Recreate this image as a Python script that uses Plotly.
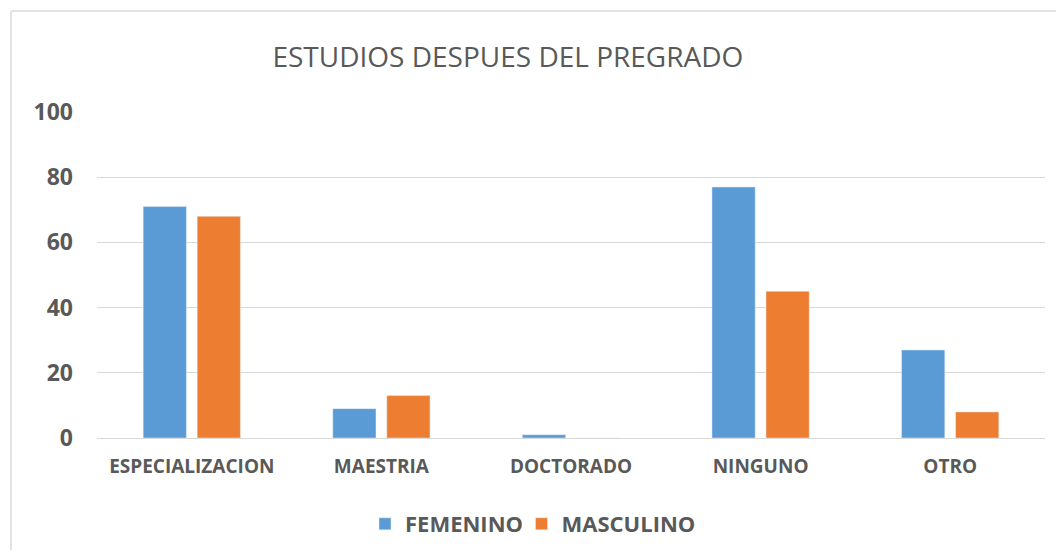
import plotly.graph_objects as go

categories = ["ESPECIALIZACION", "MAESTRIA", "DOCTORADO", "NINGUNO", "OTRO"]
femenino = [71, 9, 1, 77, 27]
masculino = [68, 13, 0, 45, 8]
y_ticks = [0, 20, 40, 60, 80, 100]

fig = go.Figure()
fig.add_trace(go.Bar(x=categories, y=femenino, name="FEMENINO", marker_color="#5B9BD5",
                     legend="legend", showlegend=True))
fig.add_trace(go.Bar(x=categories, y=masculino, name="MASCULINO", marker_color="#ED7D31",
                     legend="legend2", showlegend=True))

legend_font = dict(family="Open Sans", size=22, color="#595959", weight="bold")

fig.update_layout(
    width=1048, height=542, showlegend=True,
    paper_bgcolor="white", plot_bgcolor="white",
    margin=dict(l=89, r=11, t=104, b=112, autoexpand=False),
    barmode="group", bargap=0.43, bargroupgap=0.2,
    title=dict(text="ESTUDIOS DESPUES DEL PREGRADO", x=0.477, xanchor="center",
               y=0.909, yanchor="middle",
               font=dict(family="Open Sans", size=28, color="#595959")),
    legend=dict(orientation="h", x=0.2827, xanchor="left", yref="container", y=0.048,
                yanchor="middle", font=legend_font, itemwidth=30, visible=True),
    legend2=dict(orientation="h", x=0.4478, xanchor="left", yref="container", y=0.048,
                 yanchor="middle", font=legend_font, itemwidth=30, visible=True),
    font=dict(family="Open Sans", color="#595959"),
    shapes=[
        dict(type="line", xref="paper", yref="paper", x0=-0.0907, x1=1.02, y0=1.31, y1=1.31,
             line=dict(color="#E3E3E3", width=2)),
        dict(type="line", xref="paper", yref="paper", x0=-0.0907, x1=-0.0907, y0=1.31, y1=-0.36,
             line=dict(color="#E3E3E3", width=2)),
    ],
)
fig.update_yaxes(range=[0, 100], tickvals=y_ticks, showgrid=True, gridcolor="#D9D9D9",
                 zeroline=False, showline=False, ticks="", ticklabelstandoff=23,
                 tickfont=dict(family="Open Sans", size=23, color="#595959", weight="bold"))
fig.update_xaxes(showline=True, linecolor="#D9D9D9", ticks="", ticklabelstandoff=11,
                 tickfont=dict(family="Open Sans", size=19, color="#595959", weight="bold"))

fig.write_html("out.html")
